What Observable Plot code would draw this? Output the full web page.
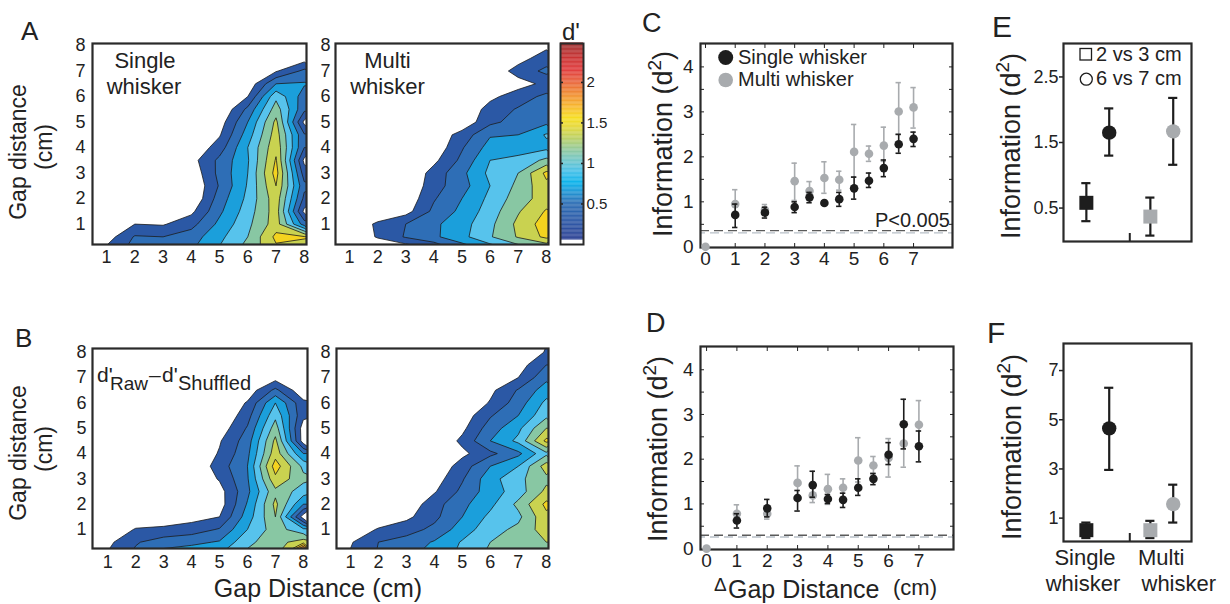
<!DOCTYPE html>
<html><head><meta charset="utf-8">
<script src="https://cdn.jsdelivr.net/npm/d3@7"></script>
<script src="https://cdn.jsdelivr.net/npm/@observablehq/plot@0.6"></script>
<style>
body{margin:0;background:#fff;}
#fig{position:relative;width:1230px;height:604px;overflow:hidden;background:#fff;}
</style></head><body><div id="fig"></div>
<script>
// ---------------- DATA ----------------
// Gap-distance grid (cm): columns = x, rows = y (top row first)
const gapX = [1, 2, 3, 4, 5, 6, 7, 8];
const gapY = [8, 7.5, 7, 6.5, 6, 5.5, 5, 4.5, 4, 3.5, 3, 2.5, 2, 1.5, 1, 0.5, 0];

// A: d' single whisker
const dSingleRaw = [
  0,0,0,0,0,0,0,0,
  0,0,0,0,0,0,0.05,0.1,
  0,0,0,0,0,0,0.18,0.45,
  0,0,0,0,0,0.05,0.6,0.62,
  0,0,0,0,0,0.2,0.95,0.5,
  0,0,0,0,0,0.45,1.1,0.45,
  0,0,0,0,0.1,0.6,1.25,0.15,
  0,0,0,0,0.18,0.7,1.3,0.42,
  0,0,0,0.02,0.3,0.8,1.35,0.4,
  0,0,0,0.12,0.45,0.78,1.42,0.15,
  0,0,0,0.05,0.46,0.8,1.48,0.3,
  0,0,0,0,0.42,0.82,1.4,0.45,
  0,0,0,0,0.5,0.85,1.32,0.35,
  0,0,0,0.15,0.56,0.9,1.3,0.15,
  0,0.2,0.18,0.33,0.65,0.95,1.3,0.5,
  0.1,0.42,0.4,0.5,0.75,1.0,1.45,1.42,
  0.25,0.48,0.55,0.58,0.82,1.08,1.35,1.3
];
// A: d' multi whisker
const dMultiRaw = [
  0,0,0,0,0,0,0,0.15,
  0,0,0,0,0,0,0.12,0.3,
  0,0,0,0,0,0.05,0.28,0.45,
  0,0,0,0,0,0.05,0.12,0.25,
  0,0,0,0,0,0.15,0.3,0.45,
  0,0,0,0,0.02,0.28,0.42,0.5,
  0,0,0,0,0.05,0.35,0.48,0.55,
  0,0,0,0.05,0.28,0.58,0.6,0.82,
  0,0,0,0.05,0.38,0.68,0.72,0.75,
  0,0,0,0.15,0.45,0.8,0.85,1.05,
  0,0,0,0.28,0.55,0.85,1.0,1.45,
  0,0,0,0.32,0.52,0.8,1.05,1.35,
  0,0,0.05,0.38,0.6,0.85,1.1,1.3,
  0,0.02,0.12,0.45,0.65,0.9,1.18,1.42,
  0.02,0.24,0.4,0.56,0.72,0.95,1.25,1.5,
  0.02,0.22,0.42,0.56,0.74,0.98,1.22,1.45,
  0,0,0.02,0.18,0.45,0.65,0.85,0.95
];
// B: d'raw - d'shuffled, single whisker
const dSingleDiff = [
  0,0,0,0,0,0,0,0,
  0,0,0,0,0,0,0,0,
  0,0,0,0,0,0,0.12,0,
  0,0,0,0,0,0.08,0.45,0.05,
  0,0,0,0,0,0.22,0.8,0.25,
  0,0,0,0,0,0.32,0.95,0.25,
  0,0,0,0,0.08,0.42,1.1,0.1,
  0,0,0,0,0.18,0.5,1.25,0.1,
  0,0,0,0,0.22,0.55,1.32,0.6,
  0,0,0,0,0.3,0.6,1.5,0.95,
  0,0,0,0,0.22,0.58,1.35,1.05,
  0,0,0,0,0.12,0.55,1.15,0.9,
  0,0,0,0,0.1,0.62,1.25,0.6,
  0,0.02,0.05,0.12,0.2,0.7,1.2,0.1,
  0,0.22,0.25,0.3,0.42,0.8,1.1,0.85,
  0.15,0.38,0.5,0.55,0.62,0.95,1.12,1.3,
  0.22,0.45,0.7,0.75,0.8,1.05,1.1,2.8
];
// B: d'raw - d'shuffled, multi whisker
const dMultiDiff = [
  0,0,0,0,0,0,0,0.22,
  0,0,0,0,0,0,0.1,0.4,
  0,0,0,0,0,0.05,0.2,0.55,
  0,0,0,0,0,0.15,0.42,0.7,
  0,0,0,0,0,0.22,0.5,0.85,
  0,0,0,0,0.08,0.38,0.6,0.95,
  0,0,0,0,0.15,0.5,0.75,1.2,
  0,0,0,0,0.25,0.6,0.85,1.45,
  0,0,0,0,0.15,0.35,0.55,0.95,
  0,0,0,0.02,0.3,0.6,0.8,1.3,
  0,0,0,0.1,0.38,0.72,0.95,1.15,
  0,0,0,0.18,0.45,0.7,0.9,1.25,
  0,0,0.05,0.32,0.55,0.75,1.05,1.45,
  0,0.05,0.15,0.35,0.6,0.85,0.95,1.35,
  0.05,0.22,0.32,0.45,0.7,0.92,1.05,1.3,
  0.18,0.4,0.48,0.62,0.82,1.0,1.1,1.2,
  0.22,0.42,0.55,0.68,0.85,1.05,1.12,1.15
];

// contour levels and colour bar
const levels = [0.2,0.4,0.6,0.8,1.0,1.2,1.4,1.6,1.8,2.0,2.2,2.4];
const bandColors = ["#2b58a5","#2e6eb6","#1b9fdb","#57c3ec","#88c7a3","#c9d250","#f4d31f","#f7b72c","#f08b2f","#e8603a","#dc3a3a","#b02e2e"];
const cbStops  = [0.055,0.3,0.5,0.62,0.75,0.9,1.0,1.15,1.3,1.45,1.55,1.7,1.85,2.0,2.15,2.3,2.48];
const cbColors = ["#2b3f93","#2a58a6","#2a6cb3","#1f8fd0","#05b0ea","#45bfe8","#66c4d0","#8dc8a0","#b8cf63","#e6d835","#f6de1e","#f7b52b","#f08a2e","#e8623a","#e0393a","#c83030","#9a2c2c"];
const cbTicks = [0.5, 1, 1.5, 2];

// C: information vs delta gap distance (raw)
const cxSingle = [1,2,3,3.5,4,4.5,5,5.5,6,6.5,7];
const cSingleMean = [0.71,0.76,0.885,1.10,0.975,1.06,1.30,1.47,1.75,2.28,2.40];
const cSingleLo   = [0.43,0.64,0.76,0.98,0.93,0.90,1.06,1.32,1.56,2.08,2.23];
const cSingleHi   = [0.95,0.88,1.00,1.21,1.02,1.21,1.55,1.64,1.93,2.50,2.55];
const cxMulti = [0,1,2,3,3.5,4,4.5,5,5.5,6,6.5,7];
const cMultiMean = [0,0.95,0.82,1.46,1.24,1.53,1.49,2.11,2.07,2.25,3.01,3.10];
const cMultiLo   = [0,0.69,0.72,1.03,1.04,1.19,1.26,1.55,1.90,1.90,2.50,2.64];
const cMultiHi   = [0,1.27,0.94,1.86,1.45,1.89,1.68,2.72,2.24,2.66,3.65,3.54];
const cSignif = [0.36, 0.31];

// D: information vs delta gap distance (shuffle-corrected)
const dxSingle = [1,2,3,3.5,4,4.5,5,5.5,6,6.5,7];
const dSingleMean = [0.63,0.90,1.13,1.42,1.11,1.09,1.36,1.56,2.10,2.78,2.29];
const dSingleLo   = [0.46,0.71,0.84,1.15,1.01,0.92,1.19,1.43,1.88,2.23,1.94];
const dSingleHi   = [0.78,1.10,1.30,1.73,1.21,1.24,1.56,1.68,2.37,3.34,2.63];
const dxMulti = [0,1,2,3,3.5,4,4.5,5,5.5,6,6.5,7];
const dMultiMean = [0,0.78,0.78,1.47,1.19,1.33,1.36,1.97,1.86,2.03,2.35,2.77];
const dMultiLo   = [0,0.63,0.66,1.08,1.03,0.99,1.15,1.49,1.68,1.60,1.82,2.33];
const dMultiHi   = [0,0.98,0.90,1.85,1.38,1.66,1.56,2.48,2.06,2.46,2.80,3.31];
const dSignif = [0.30, 0.26];
const deltaTicks = [0,1,2,3,4,5,6,7];
const infoTicks = [0,1,2,3,4];
const infoMinor = [0.5,1,1.5,2,2.5,3,3.5,4];

// E / F: pairs of gap distances
const groups = ["Single whisker", "Multi whisker"];
const e23 = [0.58, 0.37], e23Lo = [0.30, 0.08], e23Hi = [0.88, 0.66];
const e67 = [1.65, 1.67], e67Lo = [1.30, 1.16], e67Hi = [2.02, 2.18];
const f23 = [0.51, 0.51], f23Lo = [0.19, 0.19], f23Hi = [0.82, 0.89];
const f67 = [4.65, 1.57], f67Lo = [2.96, 0.82], f67Hi = [6.30, 2.36];
const eTicks = [0.5, 1.5, 2.5];
const fTicks = [1, 3, 5, 7];

// ---------------- STYLE / LAYOUT ----------------
const FONT = '"Liberation Sans", Arial, Helvetica, sans-serif';
const INK = "#222";
const FRAME = "#2a2a2a";
const BLACK = "#1d1d1d";
const GRAY = "#a8abae";
const fmt = d => String(d);
const baseStyle = {fontFamily: FONT, fontSize: "18px", color: INK, background: "transparent", overflow: "visible"};
const fig = document.getElementById("fig");

function place(svg, left, top) {
  svg.style.position = "absolute";
  svg.style.left = left + "px";
  svg.style.top = top + "px";
  svg.style.maxWidth = "none";
  fig.appendChild(svg);
}

function contourPanel(values, frame, xDomain, yDomain, pad) {
  const [fx0, fx1, fy0, fy1] = frame;
  const ml = 40, mr = 6, mt = 6, mb = 32;
  const sx = gapX[1] - gapX[0], sy = gapY[0] - gapY[1];
  const svg = Plot.plot({
    width: fx1 - fx0 + ml + mr, height: fy1 - fy0 + mt + mb,
    marginLeft: ml, marginRight: mr, marginTop: mt, marginBottom: mb,
    style: baseStyle,
    x: {domain: xDomain, label: null}, y: {domain: yDomain, label: null},
    color: {type: "ordinal", domain: levels, range: bandColors},
    marks: [
      Plot.contour(values, {
        x1: gapX[0] - sx / 2, x2: gapX[gapX.length - 1] + sx / 2,
        y1: gapY[0] + sy / 2, y2: gapY[gapY.length - 1] - sy / 2,
        width: gapX.length, height: gapY.length,
        value: Plot.identity, fill: "value", thresholds: levels,
        stroke: "#1c1c1c", strokeWidth: 0.8, clip: true
      }),
      Plot.frame({stroke: FRAME, strokeWidth: 2.2}),
      Plot.axisX(gapX, {tickSize: 0, tickPadding: pad[0], fontSize: 18, tickFormat: fmt}),
      Plot.axisY(gapX, {tickSize: 0, tickPadding: pad[1], fontSize: 18, tickFormat: fmt})
    ]
  });
  place(svg, fx0 - ml, fy0 - mt);
}

function colorbar(frame) {
  const [fx0, fx1, fy0, fy1] = frame;
  const ml = 4, mr = 36, mt = 4, mb = 6;
  const ramp = d3.range(cbStops[0], cbStops[cbStops.length - 1], 0.01);
  const svg = Plot.plot({
    width: fx1 - fx0 + ml + mr, height: fy1 - fy0 + mt + mb,
    marginLeft: ml, marginRight: mr, marginTop: mt, marginBottom: mb,
    style: baseStyle,
    x: {domain: [0, 1], axis: null}, y: {domain: [0, 2.48], label: null},
    color: {type: "linear", domain: cbStops, range: cbColors},
    marks: [
      Plot.rect(ramp, {x1: 0, x2: 1, y1: d => d, y2: d => d + 0.012, fill: d => d}),
      Plot.axisY(cbTicks, {anchor: "right", tickSize: 0, tickPadding: 3, fontSize: 15, tickFormat: fmt}),
      Plot.axisY(cbTicks, {anchor: "right", tickSize: -3, tickFormat: () => "", strokeWidth: 1.5}),
      Plot.axisY(cbTicks, {anchor: "left", tickSize: -3, tickFormat: () => "", strokeWidth: 1.5}),
      Plot.frame({stroke: FRAME, strokeWidth: 2})
    ]
  });
  place(svg, fx0 - ml, fy0 - mt);
}

function series(xs, m, lo, hi) { return xs.map((x, i) => ({x, y: m[i], lo: lo[i], hi: hi[i]})); }
function errorBars(data, color, cap, sw) {
  const d = data.filter(e => e.hi > e.lo);
  return [
    Plot.ruleX(d, {x: "x", y1: "lo", y2: "hi", stroke: color, strokeWidth: sw}),
    Plot.ruleY(d, {y: "lo", x1: e => e.x - cap, x2: e => e.x + cap, stroke: color, strokeWidth: sw}),
    Plot.ruleY(d, {y: "hi", x1: e => e.x - cap, x2: e => e.x + cap, stroke: color, strokeWidth: sw})
  ];
}

function infoPanel(frame, xDomain, yDomain, single, multi, signif) {
  const [fx0, fx1, fy0, fy1] = frame;
  const ml = 40, mr = 6, mt = 6, mb = 30;
  const svg = Plot.plot({
    width: fx1 - fx0 + ml + mr, height: fy1 - fy0 + mt + mb,
    marginLeft: ml, marginRight: mr, marginTop: mt, marginBottom: mb,
    style: baseStyle,
    x: {domain: xDomain, label: null}, y: {domain: yDomain, label: null},
    marks: [
      Plot.ruleY([signif[0]], {stroke: "#5b5b5b", strokeWidth: 1.4, strokeDasharray: "9,5"}),
      Plot.ruleY([signif[1]], {stroke: "#b8c0c8", strokeWidth: 1.4, strokeDasharray: "9,5", strokeDashoffset: 4}),
      Plot.frame({stroke: FRAME, strokeWidth: 2.2}),
      Plot.axisX(deltaTicks, {anchor: "bottom", tickSize: -4, tickFormat: () => ""}),
      Plot.axisX(deltaTicks, {anchor: "top", tickSize: -4, tickFormat: () => ""}),
      Plot.axisY(infoMinor, {anchor: "left", tickSize: -4, tickFormat: () => ""}),
      Plot.axisY(infoMinor, {anchor: "right", tickSize: -4, tickFormat: () => ""}),
      Plot.axisX(deltaTicks, {anchor: "bottom", tickSize: 0, tickPadding: 4, fontSize: 19, tickFormat: fmt}),
      Plot.axisY(infoTicks, {anchor: "left", tickSize: 0, tickPadding: 7, fontSize: 19, tickFormat: fmt}),
      ...errorBars(multi, GRAY, 0.09, 1.6),
      Plot.dot(multi, {x: "x", y: "y", r: 4.3, fill: GRAY}),
      ...errorBars(single, BLACK, 0.09, 1.6),
      Plot.dot(single, {x: "x", y: "y", r: 4.3, fill: BLACK})
    ]
  });
  place(svg, fx0 - ml, fy0 - mt);
}

const groupCenter = [1.5, 4.3];
function pairPanel(frame, yDomain, yTicks, p23, lo23, hi23, p67, lo67, hi67) {
  const [fx0, fx1, fy0, fy1] = frame;
  const ml = 40, mr = 6, mt = 6, mb = 20;
  const sq = groups.map((g, i) => ({g, x: groupCenter[i] - 0.5, y: p23[i], lo: lo23[i], hi: hi23[i]}));
  const ci = groups.map((g, i) => ({g, x: groupCenter[i] + 0.5, y: p67[i], lo: lo67[i], hi: hi67[i]}));
  const divider = d3.mean(groupCenter);
  const svg = Plot.plot({
    width: fx1 - fx0 + ml + mr, height: fy1 - fy0 + mt + mb,
    marginLeft: ml, marginRight: mr, marginTop: mt, marginBottom: mb,
    style: baseStyle,
    x: {domain: [0, 5.6], label: null}, y: {domain: yDomain, label: null},
    marks: [
      Plot.frame({stroke: FRAME, strokeWidth: 2.2}),
      Plot.axisY(yTicks, {tickSize: 4, tickPadding: 1, fontSize: 18, tickFormat: fmt, strokeWidth: 1.5}),
      Plot.axisX([divider], {tickSize: -8, tickFormat: () => "", strokeWidth: 2}),
      ...errorBars(sq.concat(ci), BLACK, 0.2, 2.2),
      Plot.dot(sq.filter(d => d.g === groups[0]), {x: "x", y: "y", symbol: "square", r: 7.9, fill: BLACK}),
      Plot.dot(sq.filter(d => d.g === groups[1]), {x: "x", y: "y", symbol: "square", r: 7.9, fill: GRAY}),
      Plot.dot(ci.filter(d => d.g === groups[0]), {x: "x", y: "y", r: 7.2, fill: BLACK}),
      Plot.dot(ci.filter(d => d.g === groups[1]), {x: "x", y: "y", r: 7.2, fill: GRAY})
    ]
  });
  place(svg, fx0 - ml, fy0 - mt);
}

// ---------------- DRAW ----------------
contourPanel(dSingleRaw, [92, 306, 43, 244], [0.5, 8.08], [0.2, 8.08], [6, 7]);
contourPanel(dMultiRaw, [335, 548, 43, 244], [0.5, 8.08], [0.2, 8.08], [6, 5]);
contourPanel(dSingleDiff, [92, 307, 348, 548], [0.45, 8.15], [0.25, 8.15], [7, 6]);
contourPanel(dMultiDiff, [336, 548, 348, 548], [0.5, 8.08], [0.25, 8.15], [7, 6]);
colorbar([560, 583, 43, 244]);

infoPanel([700, 952, 43, 247], [-0.168, 8.31], [-0.015, 4.52],
  series(cxSingle, cSingleMean, cSingleLo, cSingleHi), series(cxMulti, cMultiMean, cMultiLo, cMultiHi), cSignif);
infoPanel([700, 953, 346, 549], [-0.2, 8.14], [-0.02, 4.52],
  series(dxSingle, dSingleMean, dSingleLo, dSingleHi), series(dxMulti, dMultiMean, dMultiLo, dMultiHi), dSignif);

pairPanel([1063, 1191, 43, 241], [-0.01, 3.01], eTicks, e23, e23Lo, e23Hi, e67, e67Lo, e67Hi);
pairPanel([1063, 1191, 343, 541], [0.05, 8.1], fTicks, f23, f23Lo, f23Hi, f67, f67Lo, f67Hi);

// ---------------- TEXT OVERLAY ----------------
const ov = d3.select(fig).append("svg")
  .attr("width", 1230).attr("height", 604)
  .style("position", "absolute").style("left", "0px").style("top", "0px")
  .attr("font-family", FONT).attr("fill", INK);
function text(str, x, y, size, anchor = "start") {
  return ov.append("text").attr("x", x).attr("y", y).attr("font-size", size).attr("text-anchor", anchor).text(str);
}
function vtext(str, x, y, size) {
  return ov.append("text").attr("x", x).attr("y", y).attr("font-size", size).attr("text-anchor", "middle")
    .attr("transform", `rotate(-90 ${x} ${y})`).text(str);
}
function infoLabel(x, y) {
  const t = ov.append("text").attr("x", x).attr("y", y).attr("font-size", 27).attr("text-anchor", "middle")
    .attr("transform", `rotate(-90 ${x} ${y})`);
  t.append("tspan").text("Information (d");
  t.append("tspan").attr("dy", -11).attr("font-size", 19).text("2");
  t.append("tspan").attr("dy", 11).text(")");
}

// panel letters
text("A", 21, 39.5, 26);
text("B", 15, 346.7, 26);
text("C", 642, 31.7, 27);
text("D", 646, 331.7, 27);
text("E", 992, 37.3, 30);
text("F", 987, 343.3, 30);

// A / B axis labels
vtext("Gap distance", 25.5, 152, 23);
vtext("(cm)", 52, 147, 23);
vtext("Gap distance", 25.5, 453, 23);
vtext("(cm)", 52, 449, 23);
text("Gap Distance (cm)", 318, 596.5, 25, "middle");

// in-panel titles
text("Single", 145, 67.5, 22, "middle");
text("whisker", 144, 93.5, 22, "middle");
text("Multi", 387.5, 67.5, 22, "middle");
text("whisker", 387.5, 93.5, 22, "middle");
text("d'", 97, 381.7, 21);
text("Raw", 110, 390, 19);
text("\u2013", 149, 381.5, 21);
text("d'", 162, 381.7, 21);
text("Shuffled", 178, 390, 20);

// colour bar label
text("d'", 562, 40, 24);

// C legend + significance
ov.append("circle").attr("cx", 725.7).attr("cy", 57.5).attr("r", 7.5).attr("fill", BLACK);
ov.append("circle").attr("cx", 725.7).attr("cy", 80).attr("r", 7.3).attr("fill", GRAY);
text("Single whisker", 738, 63.5, 20);
text("Multi whisker", 738, 86, 20);
text("P<0.005", 950, 226.5, 20, "end");

// y labels C-F
infoLabel(672, 144);
infoLabel(667, 449);
infoLabel(1020, 146);
infoLabel(1021, 447);

// D x label
text("\u0394", 714, 591, 19);
text("Gap Distance", 728, 597.5, 25);
text("(cm)", 893, 595, 22);

// E legend
ov.append("rect").attr("x", 1080).attr("y", 48.5).attr("width", 11.5).attr("height", 11.5)
  .attr("fill", "none").attr("stroke", BLACK).attr("stroke-width", 1.3);
ov.append("circle").attr("cx", 1086.3).attr("cy", 79.2).attr("r", 6)
  .attr("fill", "none").attr("stroke", BLACK).attr("stroke-width", 1.3);
text("2 vs 3 cm", 1096, 60.7, 20);
text("6 vs 7 cm", 1096, 85, 20);

// F category labels
text("Single", 1085, 565, 22, "middle");
text("whisker", 1083, 591, 22, "middle");
text("Multi", 1138, 565, 22);
text("whisker", 1141.5, 591, 22);
</script>
</body></html>
